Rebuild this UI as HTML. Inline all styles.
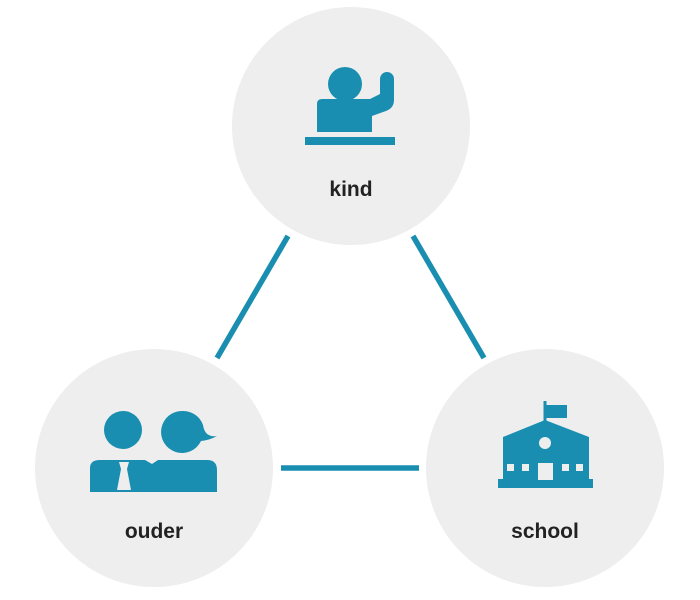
<!DOCTYPE html>
<html><head><style>body{margin:0;background:#fff}svg{display:block}</style></head><body>
<svg width="700" height="600" viewBox="0 0 700 600" xmlns="http://www.w3.org/2000/svg">
<g fill="#eeeeee">
<circle cx="351" cy="126" r="119"/>
<circle cx="154" cy="468" r="119"/>
<circle cx="545" cy="468" r="119"/>
</g>
<g stroke="#1a8eb0" stroke-width="5.5">
<line x1="288" y1="236" x2="217" y2="358"/>
<line x1="413" y1="236" x2="484" y2="358"/>
<line x1="281" y1="468" x2="419" y2="468"/>
</g>
<g fill="#1a8eb0">
<!-- kind -->
<circle cx="345" cy="84" r="17"/>
<path d="M322 99 H370 L380 94 V79 A7 7 0 0 1 394 79 V100 Q394 108 386 111 L372 116 V132 H317 V104 Q317 99 322 99Z"/>
<rect x="305" y="137" width="90" height="8"/>
<!-- ouder -->
<circle cx="123" cy="430" r="19"/>
<path d="M183 411 A21 21 0 1 0 201 441 Q210 440 217 436 Q205 438 203 425 A21 21 0 0 0 183 411Z"/>
<path d="M90 490 V468 Q90 460 100 460 H145 L152 464 L158 460 H207 Q217 460 217 470 V492 H90Z"/>
<!-- school -->
<rect x="543.5" y="401" width="3" height="22"/>
<rect x="546" y="405" width="21" height="13"/>
<path d="M503 437 L545 420 L589 437 V480 H503Z"/>
<rect x="498" y="479" width="95" height="9"/>
</g>
<g fill="#eeeeee">
<polygon points="119,462 129,462 127,469 131,490 117,490 121,469"/>
<circle cx="545" cy="443" r="6"/>
<rect x="538" y="463" width="15" height="17"/>
<rect x="507" y="464" width="7" height="7"/>
<rect x="522" y="464" width="7" height="7"/>
<rect x="562" y="464" width="7" height="7"/>
<rect x="576" y="464" width="7" height="7"/>
</g>
<g font-family="Liberation Sans, sans-serif" font-weight="bold" font-size="21" fill="#222" text-anchor="middle">
<text x="351" y="196">kind</text>
<text x="154" y="538">ouder</text>
<text x="545" y="538">school</text>
</g>
</svg>
</body></html>
